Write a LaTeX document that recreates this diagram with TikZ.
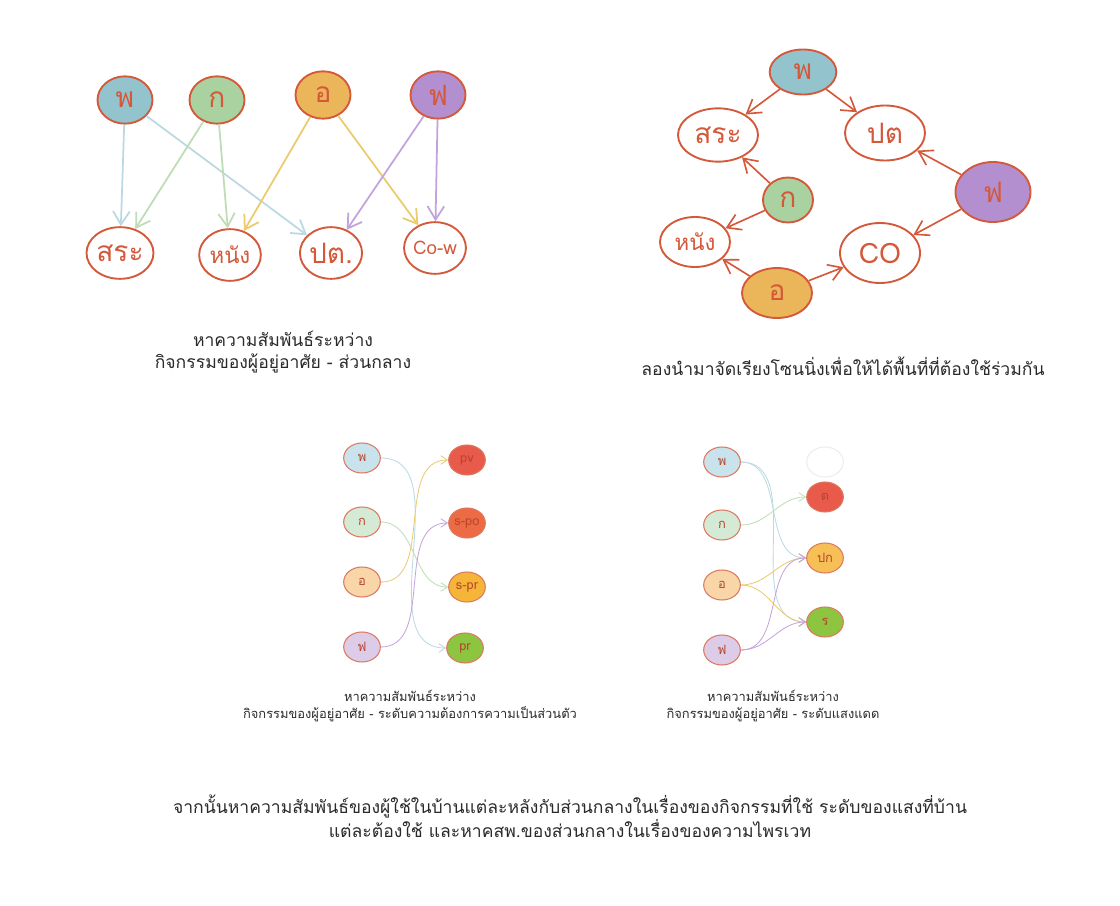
\documentclass[tikz,border=0pt]{standalone}
\usepackage{fontspec}
\usetikzlibrary{shapes.geometric,arrows.meta}
\newfontfamily\thaifont[Script=Thai]{Loma}

\definecolor{rimred}{HTML}{D4583A}
\definecolor{inkred}{HTML}{B8452E}
\definecolor{fillP}{HTML}{93C4CE}
\definecolor{fillK}{HTML}{A9D2A0}
\definecolor{fillO}{HTML}{EBB659}
\definecolor{fillF}{HTML}{B38FD0}
\definecolor{lineP}{HTML}{BBD9E2}
\definecolor{lineK}{HTML}{BFDDB4}
\definecolor{lineO}{HTML}{EBCB6E}
\definecolor{lineF}{HTML}{C3A3DC}
\definecolor{paleP}{HTML}{C9E3EC}
\definecolor{paleK}{HTML}{D5EAD5}
\definecolor{paleO}{HTML}{F8D6A8}
\definecolor{paleF}{HTML}{DCCCE8}
\definecolor{redA}{HTML}{E85A4A}
\definecolor{redB}{HTML}{EC6B44}
\definecolor{yelA}{HTML}{F4B539}
\definecolor{grnA}{HTML}{8DC540}
\definecolor{captext}{HTML}{2A2A2A}

\begin{document}
\begin{tikzpicture}[x=0.03cm,y=-0.03cm,
  ring/.style={ellipse,draw=rimred,line width=1.6pt,inner sep=0pt,text=rimred,
    font=\thaifont\fontsize{24}{24}\selectfont},
  actor/.style={ring,minimum width=1.65cm,minimum height=1.42cm},
  place/.style={ring,fill=white,minimum width=1.85cm,minimum height=1.55cm},
  smalltext/.style={font=\thaifont\fontsize{19}{19}\selectfont},
  dot/.style={ellipse,draw=rimred!80,line width=0.9pt,inner sep=0pt,text=inkred,
    minimum width=1.1cm,minimum height=0.9cm,font=\thaifont\fontsize{11}{11}\selectfont},
  link/.style={line width=1.5pt,-{Straight Barb[length=4mm,width=5mm]}},
  redlink/.style={link,draw=rimred,line width=1.4pt},
  wire/.style={line width=0.7pt,-{Straight Barb[length=2mm,width=2.6mm]},out=0,in=180},
  bigcaption/.style={align=center,text=captext,font=\thaifont\fontsize{15}{19}\selectfont},
  smallcaption/.style={align=center,text=captext,font=\thaifont\fontsize{11}{14}\selectfont}
]
\useasboundingbox[fill=white] (0,0) rectangle (1120,906);

% first sketch: activities to shared spaces
\node[actor,fill=fillP] (p1) at (125,100) {พ};
\node[actor,fill=fillK] (k1) at (217,100) {ก};
\node[actor,fill=fillO] (o1) at (323,95) {อ};
\node[actor,fill=fillF] (f1) at (438,95) {ฟ};
\node[place] (sa1) at (120,253) {สระ};
\node[place,smalltext] (na1) at (230,255) {หนัง};
\node[place] (pt1) at (331,253) {ปต.};
\node[place,font=\thaifont\fontsize{16}{16}\selectfont] (cw1) at (435,248) {Co-w};
\draw[link,lineP] (p1) -- (sa1);
\draw[link,lineP] (p1) -- (pt1);
\draw[link,lineK] (k1) -- (sa1);
\draw[link,lineK] (k1) -- (na1);
\draw[link,lineO] (o1) -- (na1);
\draw[link,lineO] (o1) -- (cw1);
\draw[link,lineF] (f1) -- (pt1);
\draw[link,lineF] (f1) -- (cw1);
\node[bigcaption] (c1) at (283,352) {หาความสัมพันธ์ระหว่าง\\กิจกรรมของผู้อยู่อาศัย - ส่วนกลาง};

% second sketch: zoning
\node[actor,fill=fillP,minimum width=2cm,minimum height=1.35cm] (p2) at (803,72) {พ};
\node[place,minimum width=2.4cm,minimum height=1.6cm] (sa2) at (718,135) {สระ};
\node[place,minimum width=2.4cm,minimum height=1.65cm] (pt2) at (885,133) {ปต};
\node[actor,fill=fillK,minimum width=1.5cm,minimum height=1.35cm] (k2) at (788,200) {ก};
\node[actor,fill=fillF,minimum width=2.25cm,minimum height=1.8cm] (f2) at (993,192) {ฟ};
\node[place,smalltext,minimum width=2.1cm,minimum height=1.5cm] (na2) at (695,242) {หนัง};
\node[place,minimum width=2.4cm,minimum height=1.8cm] (co2) at (880,253) {CO};
\node[actor,fill=fillO,minimum width=2.1cm,minimum height=1.5cm] (o2) at (777,293) {อ};
\draw[redlink] (p2) -- (sa2);
\draw[redlink] (p2) -- (pt2);
\draw[redlink] (f2) -- (pt2);
\draw[redlink] (f2) -- (co2);
\draw[redlink] (k2) -- (sa2);
\draw[redlink] (k2) -- (na2);
\draw[redlink] (o2) -- (na2);
\draw[redlink] (o2) -- (co2);
\node[bigcaption] (c2) at (843,366) {ลองนำมาจัดเรียงโซนนิ่งเพื่อให้ได้พื้นที่ที่ต้องใช้ร่วมกัน};

% third sketch: privacy
\node[dot,fill=paleP] (p3) at (362,458) {พ};
\node[dot,fill=paleK] (k3) at (362,522) {ก};
\node[dot,fill=paleO] (o3) at (362,582) {อ};
\node[dot,fill=paleF] (f3) at (362,647) {ฟ};
\node[dot,fill=redA] (pv3) at (467,460) {pv};
\node[dot,fill=redB] (sp3) at (467,523) {s-po};
\node[dot,fill=yelA] (sr3) at (467,587) {s-pr};
\node[dot,fill=grnA] (pr3) at (465,648) {pr};
\draw[wire,lineP] (p3.east) to (pr3.west);
\draw[wire,lineK] (k3.east) to (sr3.west);
\draw[wire,lineO] (o3.east) to (pv3.west);
\draw[wire,lineF] (f3.east) to (sp3.west);
\node[smallcaption] (c3) at (410,706) {หาความสัมพันธ์ระหว่าง\\กิจกรรมของผู้อยู่อาศัย - ระดับความต้องการความเป็นส่วนตัว};

% fourth sketch: daylight
\node[dot,fill=paleP] (p4) at (722,462) {พ};
\node[dot,fill=paleK] (k4) at (722,525) {ก};
\node[dot,fill=paleO] (o4) at (722,585) {อ};
\node[dot,fill=paleF] (f4) at (722,650) {ฟ};
\node[dot,draw=black!7] (e4) at (825,462) {};
\node[dot,fill=redA] (d4) at (825,497) {ด};
\node[dot,fill=yelA!85!white] (pk4) at (825,558) {ปก};
\node[dot,fill=grnA] (r4) at (825,622) {ร};
\draw[wire,lineP] (p4.east) to (pk4.west);
\draw[wire,lineP] (p4.east) to (r4.west);
\draw[wire,lineK] (k4.east) to (d4.west);
\draw[wire,lineO] (o4.east) to (pk4.west);
\draw[wire,lineO] (o4.east) to (r4.west);
\draw[wire,lineF] (f4.east) to (pk4.west);
\draw[wire,lineF] (f4.east) to (r4.west);
\node[smallcaption] (c4) at (773,706) {หาความสัมพันธ์ระหว่าง\\กิจกรรมของผู้อยู่อาศัย - ระดับแสงแดด};

% summary text
\node[bigcaption] (note) at (570,816) {จากนั้นหาความสัมพันธ์ของผู้ใช้ในบ้านแต่ละหลังกับส่วนกลางในเรื่องของกิจกรรมที่ใช้ ระดับของแสงที่บ้าน\\แต่ละต้องใช้ และหาคสพ.ของส่วนกลางในเรื่องของความไพรเวท};
\end{tikzpicture}
\end{document}
